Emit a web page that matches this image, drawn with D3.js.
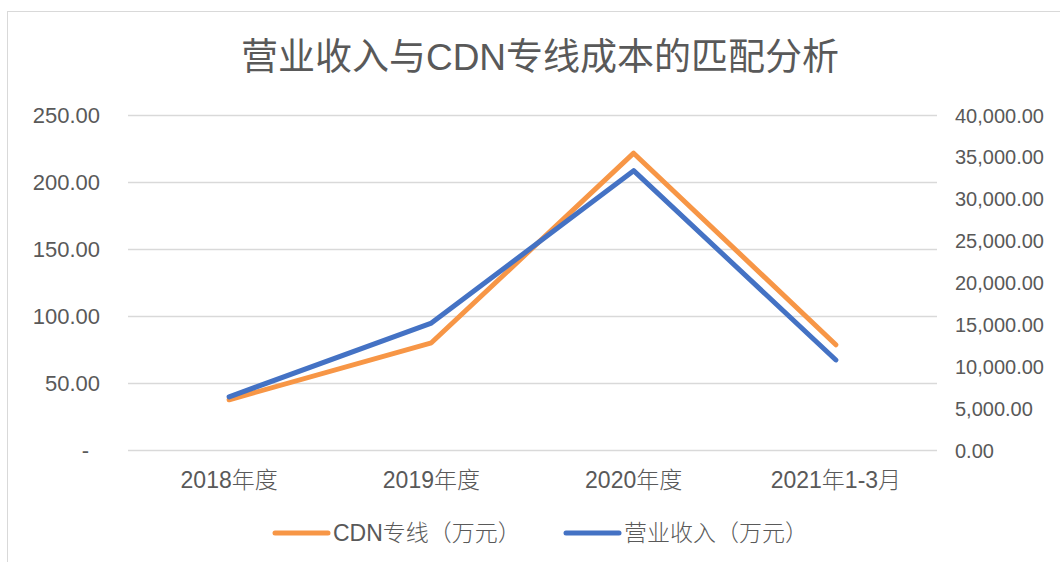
<!DOCTYPE html>
<html>
<head>
<meta charset="utf-8">
<script src="https://cdn.jsdelivr.net/npm/d3@7"></script>
<style>
  body { margin: 0; background: #fff; }
  svg text { font-family: "Liberation Sans", "Noto Sans CJK SC", sans-serif; fill: #595959; }
</style>
</head>
<body>
<div id="chart"></div>
<script>
// Categories and series
var categories = ['2018年度', '2019年度', '2020年度', '2021年1-3月'];
var cdnCost = [37.5, 80, 221.5, 78.5];          // CDN专线（万元）, left axis
var revenue = [6350, 15150, 33350, 10750];      // 营业收入（万元）, right axis
var leftTicks = [0, 50, 100, 150, 200, 250];
var rightTicks = [0, 5000, 10000, 15000, 20000, 25000, 30000, 35000, 40000];
var seriesNames = ['CDN专线（万元）', '营业收入（万元）'];
var seriesColors = ['#F79646', '#4472C4'];

var width = 1060, height = 562;
var plot = { left: 128, right: 937, top: 115, bottom: 450 };

var svg = d3.select('#chart').append('svg')
    .attr('width', width)
    .attr('height', height);

// chart area frame
svg.append('rect')
    .attr('x', 7.5).attr('y', 11.5)
    .attr('width', 1060).attr('height', 560)
    .attr('fill', '#fff')
    .attr('stroke', '#d9d9d9')
    .attr('stroke-width', 1);

svg.append('text')
    .attr('x', 540).attr('y', 70)
    .attr('text-anchor', 'middle')
    .style('font-size', '37px')
    .text('营业收入与CDN专线成本的匹配分析');

var x = d3.scaleBand()
    .domain(categories)
    .range([plot.left, plot.right]);

var yLeft = d3.scaleLinear()
    .domain([0, 250])
    .range([plot.bottom, plot.top]);

var yRight = d3.scaleLinear()
    .domain([0, 40000])
    .range([plot.bottom, plot.top]);

// gridlines follow the left axis
svg.append('g')
    .selectAll('line')
    .data(leftTicks)
    .enter()
    .append('line')
        .attr('x1', plot.left)
        .attr('x2', plot.right)
        .attr('y1', function(d) { return Math.round(yLeft(d)) + 0.5; })
        .attr('y2', function(d) { return Math.round(yLeft(d)) + 0.5; })
        .attr('stroke', '#d9d9d9')
        .attr('stroke-width', 1.3);

var leftAxis = d3.axisLeft(yLeft)
    .tickValues(leftTicks)
    .tickSize(0)
    .tickPadding(0)
    .tickFormat(function(d) { return d === 0 ? '-' : d3.format('.2f')(d); });

var gl = svg.append('g')
    .attr('transform', 'translate(' + 100 + ',0)')
    .call(leftAxis);
gl.select('.domain').remove();
gl.selectAll('text')
    .style('font-size', '22px')
    .attr('dy', '0.35em')
    .attr('dx', function(d) { return d === 0 ? -11 : 0; });

var rightAxis = d3.axisRight(yRight)
    .tickValues(rightTicks)
    .tickSize(0)
    .tickPadding(0)
    .tickFormat(d3.format(',.2f'));

var gr = svg.append('g')
    .attr('transform', 'translate(' + 955 + ',0)')
    .call(rightAxis);
gr.select('.domain').remove();
gr.selectAll('text')
    .style('font-size', '20px')
    .attr('dy', '0.35em');

var xAxis = d3.axisBottom(x).tickSize(0).tickPadding(0);
var gx = svg.append('g')
    .attr('transform', 'translate(0,' + 480 + ')')
    .call(xAxis);
gx.select('.domain').remove();
gx.selectAll('text')
    .style('font-size', '23px')
    .style('font-weight', 300)
    .attr('dy', '0.35em');

function cx(d, i) { return x(categories[i]) + x.bandwidth() / 2; }

var lineLeft = d3.line()
    .x(cx)
    .y(function(d) { return yLeft(d); });
var lineRight = d3.line()
    .x(cx)
    .y(function(d) { return yRight(d); });

svg.append('path')
    .datum(cdnCost)
    .attr('d', lineLeft)
    .attr('fill', 'none')
    .attr('stroke', seriesColors[0])
    .attr('stroke-width', 5)
    .attr('stroke-linecap', 'round')
    .attr('stroke-linejoin', 'round');

svg.append('path')
    .datum(revenue)
    .attr('d', lineRight)
    .attr('fill', 'none')
    .attr('stroke', seriesColors[1])
    .attr('stroke-width', 5)
    .attr('stroke-linecap', 'round')
    .attr('stroke-linejoin', 'round');

// legend
var legendX = [273, 564];
var legend = svg.append('g')
    .selectAll('g')
    .data(seriesNames)
    .enter()
    .append('g')
        .attr('transform', function(d, i) { return 'translate(' + legendX[i] + ',' + 533 + ')'; });

legend.append('line')
    .attr('x1', 2).attr('x2', 55)
    .attr('y1', 0).attr('y2', 0)
    .attr('stroke', function(d, i) { return seriesColors[i]; })
    .attr('stroke-width', 5)
    .attr('stroke-linecap', 'round');

legend.append('text')
    .attr('x', 60)
    .attr('y', 0)
    .attr('dy', '0.35em')
    .style('font-size', '23px')
    .style('font-weight', 300)
    .text(function(d) { return d; });
</script>
</body>
</html>
